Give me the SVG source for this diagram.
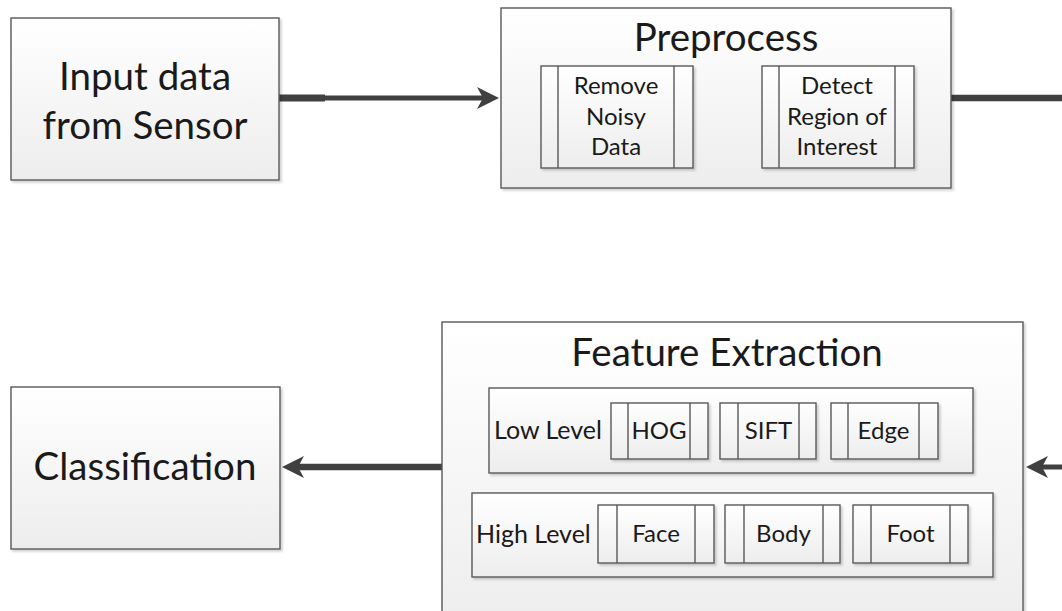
<svg xmlns="http://www.w3.org/2000/svg" width="1062" height="611" viewBox="0 0 1062 611">
  <style>
    .box { stroke: #595959; stroke-width: 1.4; filter: url(#sh); }
    .bar { stroke: #595959; stroke-width: 1.4; fill: none; }
    .big { font-family: Lato, "Liberation Sans", sans-serif; font-size: 38.5px; fill: #1a1a1a; text-anchor: middle; }
    .sm { font-family: Lato, "Liberation Sans", sans-serif; font-size: 24px; fill: #1a1a1a; text-anchor: middle; }
    .lbl { font-family: Lato, "Liberation Sans", sans-serif; font-size: 25px; fill: #1a1a1a; }
    .conn { stroke: #404040; fill: none; }
  </style>
  <defs>
    <linearGradient id="g" x1="0" y1="0" x2="0" y2="1">
      <stop offset="0" stop-color="#ffffff"/>
      <stop offset="1" stop-color="#ededed"/>
    </linearGradient>
    <filter id="sh" x="-5%" y="-5%" width="115%" height="115%">
      <feDropShadow dx="2" dy="2" stdDeviation="1.2" flood-color="#000" flood-opacity="0.18"/>
    </filter>
    <marker id="ah" viewBox="0 0 22 22" refX="6" refY="11" markerWidth="22" markerHeight="22" markerUnits="userSpaceOnUse" orient="auto">
      <path d="M22,11 L0,0 L6,11 L0,22 Z" fill="#404040"/>
    </marker>
  </defs>
  <rect width="1062" height="611" fill="#fff"/>

  <g id="connectors">
    <path class="conn" d="M279,98 H325" stroke-width="7"/>
    <path class="conn" d="M279,98 H483" stroke-width="4.8" marker-end="url(#ah)"/>
    <path class="conn" d="M951,98 H1062" stroke-width="6.5"/>
    <path class="conn" d="M1062,467 H1042" stroke-width="5" marker-end="url(#ah)"/>
    <path class="conn" d="M442,467 H298" stroke-width="6.5" marker-end="url(#ah)"/>
  </g>

  <g id="input">
    <rect class="box" x="11" y="18" width="268" height="162" fill="url(#g)"/>
    <text class="big" x="145" y="90">Input data</text>
    <text class="big" x="145" y="139">from Sensor</text>
  </g>

  <g id="preprocess">
    <rect class="box" x="501" y="8" width="450" height="180" fill="url(#g)"/>
    <text class="big" x="726" y="51">Preprocess</text>
    <g id="remove-noisy-data">
      <rect class="box" x="541" y="66" width="152" height="102" fill="url(#g)"/>
      <path class="bar" d="M558,66 V168 M674,66 V168"/>
      <text class="sm" x="616" y="94">Remove</text>
      <text class="sm" x="616" y="124.5">Noisy</text>
      <text class="sm" x="616" y="155">Data</text>
    </g>
    <g id="detect-roi">
      <rect class="box" x="762" y="66" width="152" height="102" fill="url(#g)"/>
      <path class="bar" d="M779,66 V168 M895,66 V168"/>
      <text class="sm" x="837" y="94">Detect</text>
      <text class="sm" x="837" y="124.5">Region of</text>
      <text class="sm" x="837" y="155">Interest</text>
    </g>
  </g>

  <g id="feature-extraction">
    <rect class="box" x="442" y="322" width="581" height="310" fill="url(#g)"/>
    <text class="big" x="727" y="366">Feature Extraction</text>
    <g id="low-level">
      <rect class="box" x="489" y="388" width="484" height="85" fill="url(#g)"/>
      <text class="lbl" x="494" y="439">Low Level</text>
      <g id="hog">
        <rect class="box" x="611" y="403" width="97" height="56" fill="url(#g)"/>
        <path class="bar" d="M628,403 V459 M690,403 V459"/>
        <text class="sm" x="659" y="439">HOG</text>
      </g>
      <g id="sift">
        <rect class="box" x="720" y="403" width="96" height="56" fill="url(#g)"/>
        <path class="bar" d="M738,403 V459 M799,403 V459"/>
        <text class="sm" x="768.5" y="439">SIFT</text>
      </g>
      <g id="edge">
        <rect class="box" x="831" y="403" width="107" height="56" fill="url(#g)"/>
        <path class="bar" d="M848,403 V459 M919,403 V459"/>
        <text class="sm" x="883.5" y="439">Edge</text>
      </g>
    </g>
    <g id="high-level">
      <rect class="box" x="472" y="493" width="521" height="84" fill="url(#g)"/>
      <text class="lbl" x="476" y="543">High Level</text>
      <g id="face">
        <rect class="box" x="598" y="505" width="116" height="58" fill="url(#g)"/>
        <path class="bar" d="M617,505 V563 M695,505 V563"/>
        <text class="sm" x="656" y="542">Face</text>
      </g>
      <g id="body">
        <rect class="box" x="725" y="505" width="115" height="58" fill="url(#g)"/>
        <path class="bar" d="M744,505 V563 M823,505 V563"/>
        <text class="sm" x="783.5" y="542">Body</text>
      </g>
      <g id="foot">
        <rect class="box" x="853" y="505" width="115" height="58" fill="url(#g)"/>
        <path class="bar" d="M871,505 V563 M950,505 V563"/>
        <text class="sm" x="910.5" y="542">Foot</text>
      </g>
    </g>
  </g>

  <g id="classification">
    <rect class="box" x="11" y="387" width="269" height="162" fill="url(#g)"/>
    <text class="big" x="145" y="480">Classification</text>
  </g>
</svg>
